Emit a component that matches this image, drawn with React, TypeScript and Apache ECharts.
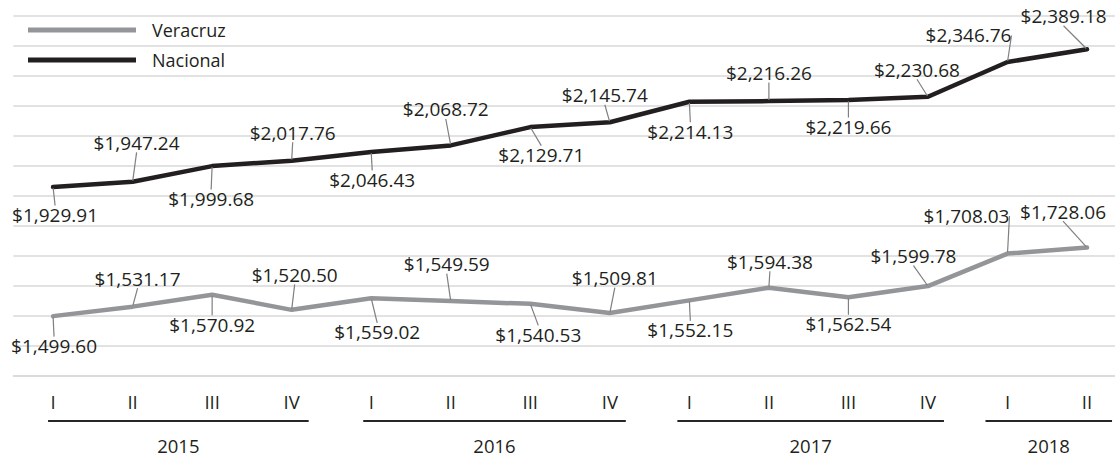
import { useEffect, useRef } from 'react';
import * as echarts from 'echarts';

// ---- data ----
const quarters = ['I', 'II', 'III', 'IV', 'I', 'II', 'III', 'IV', 'I', 'II', 'III', 'IV', 'I', 'II'];
const years = ['2015', '2016', '2017', '2018'];
const quartersPerYear = [4, 4, 4, 2];
const veracruz = [1499.60, 1531.17, 1570.92, 1520.50, 1559.02, 1549.59, 1540.53, 1509.81, 1552.15, 1594.38, 1562.54, 1599.78, 1708.03, 1728.06];
const nacional = [1929.91, 1947.24, 1999.68, 2017.76, 2046.43, 2068.72, 2129.71, 2145.74, 2214.13, 2216.26, 2219.66, 2230.68, 2346.76, 2389.18];

// ---- layout (label offsets relative to point, px) ----
const nacOffsets: [number, number][] = [
  [2, 28], [4, -39], [-1, 33], [1, -28], [1, 28], [-5, -36], [11, 28],
  [-5, -27], [1, 30], [0, -28], [0, 27], [-11, -27], [-39, -26.5], [-23.5, -33],
];
const verOffsets: [number, number][] = [
  [1, 30], [5, -28], [0, 30], [3, -35], [6, 34], [-4, -37], [8, 31],
  [5, -35], [1, 30], [1, -26], [0, 27], [-14.5, -30], [-41, -37.6], [-24, -36],
];
const padL = [5, 8, 12, 22];
const padR = [17, 16, 16, 25];

const FONT = '"Open Sans", "Noto Sans", sans-serif';
const TEXT = '#231f20';
const NAC_COLOR = '#231f20';
const VER_COLOR = '#939598';

const fmt = (v: number) =>
  '$' + v.toLocaleString('en-US', { minimumFractionDigits: 2, maximumFractionDigits: 2 });

export default function App() {
  const ref = useRef<HTMLDivElement>(null);
  useEffect(() => {
    if (!ref.current) return;
    const chart = echarts.init(ref.current, undefined, { renderer: 'svg' });
    const mkSeries = (name: string, data: number[], color: string, offsets: [number, number][]) => ({
      name,
      type: 'line',
      data,
      symbol: 'circle',
      symbolSize: 2,
      showSymbol: true,
      itemStyle: { color },
      lineStyle: { color, width: 4.5, cap: 'round', join: 'round' },
      label: {
        show: true,
        position: 'inside',
        formatter: (p: any) => fmt(p.value),
        fontFamily: FONT,
        fontSize: 19,
        color: TEXT,
        padding: [3, 4, 3, 4],
      },
      labelLine: { show: true, length2: 0, lineStyle: { color: '#7f7f7f', width: 1.2 } },
      labelLayout: (p: any) => ({ dx: offsets[p.dataIndex][0], dy: offsets[p.dataIndex][1] }),
      emphasis: { disabled: true },
    });
    chart.setOption({
      animation: false,
      grid: {
        left: 13.3,
        top: 16,
        width: 1113.5,
        height: 360,
        containLabel: false,
        outerBoundsMode: 'none',
      },
      legend: {
        orient: 'vertical',
        left: 23,
        top: 15,
        itemWidth: 108,
        itemHeight: 5,
        itemGap: 10,
        icon: 'rect',
        data: ['Veracruz', 'Nacional'],
        textStyle: { fontFamily: FONT, fontSize: 18, color: TEXT, lineHeight: 20, padding: [0, 0, 0, 11] },
      },
      xAxis: {
        type: 'category',
        data: quarters,
        boundaryGap: true,
        axisTick: { show: false },
        axisLine: { lineStyle: { color: '#d9d9d9', width: 1.5 } },
        axisLabel: { fontFamily: FONT, fontSize: 18.5, color: TEXT, margin: 16, interval: 0 },
      },
      yAxis: {
        type: 'value',
        min: 1300,
        max: 2500,
        interval: 100,
        axisLabel: { show: false },
        axisLine: { show: false },
        axisTick: { show: false },
        splitLine: { lineStyle: { color: '#d9d9d9', width: 1.5 } },
      },
      series: [
        mkSeries('Veracruz', veracruz, VER_COLOR, verOffsets),
        mkSeries('Nacional', nacional, NAC_COLOR, nacOffsets),
      ],
    });

    const yBase = chart.convertToPixel({ yAxisIndex: 0 }, 1300) as number;
    const g: any[] = [];
    let start = 0;
    years.forEach((yr, i) => {
      const from = start;
      const to = start + quartersPerYear[i] - 1;
      start += quartersPerYear[i];
      const x1 = (chart.convertToPixel({ xAxisIndex: 0 }, from) as number) - padL[i];
      const x2 = (chart.convertToPixel({ xAxisIndex: 0 }, to) as number) + padR[i];
      g.push({
        type: 'line',
        shape: { x1, y1: yBase + 45, x2, y2: yBase + 45 },
        style: { stroke: '#262626', lineWidth: 2 },
        silent: true,
      });
      g.push({
        type: 'text',
        x: (x1 + x2) / 2,
        y: yBase + 69,
        style: {
          text: yr,
          fontFamily: FONT,
          fontSize: 18.5,
          fill: TEXT,
          textAlign: 'center',
          textVerticalAlign: 'middle',
        },
        silent: true,
      });
    });
    chart.setOption({ graphic: g });
    return () => chart.dispose();
  }, []);
  return (
    <div
      ref={ref}
      style={{ position: 'absolute', left: 0, top: 0, width: 1115, height: 458, background: '#fff' }}
    />
  );
}
